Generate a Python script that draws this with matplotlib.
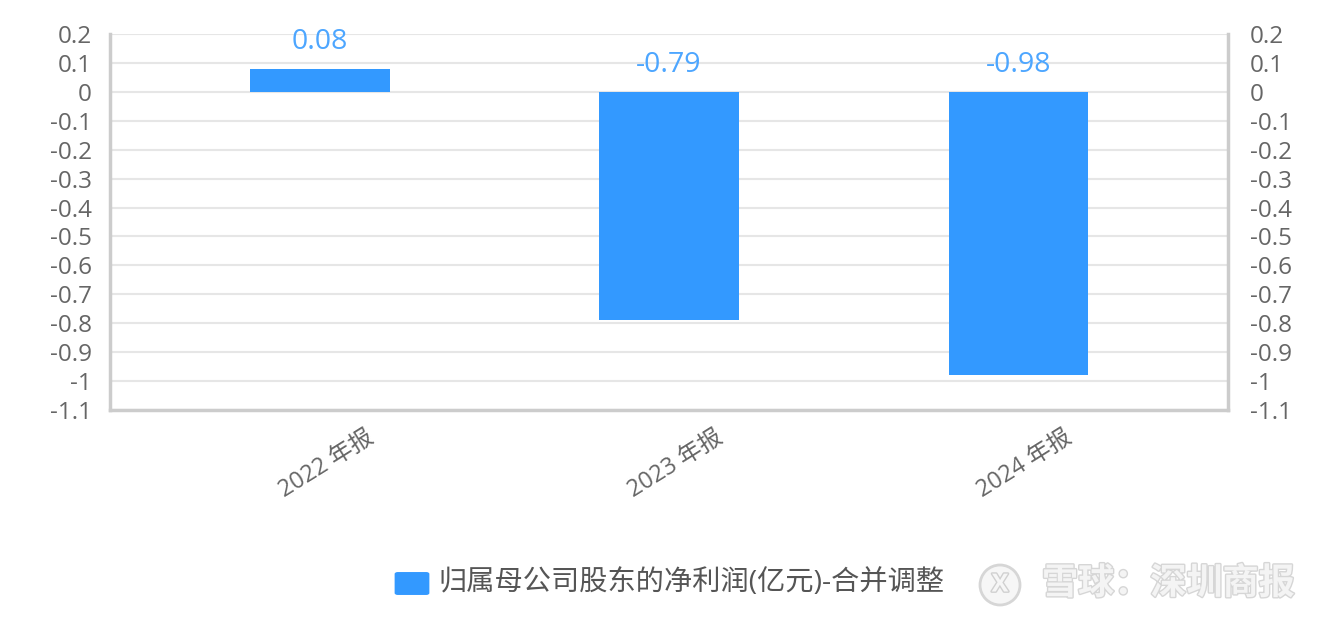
import matplotlib
matplotlib.use("Agg")
import matplotlib.pyplot as plt
from matplotlib.patches import FancyBboxPatch, Circle
import matplotlib.patheffects as pe
import matplotlib.transforms as mtransforms

categories = ["2022 年报", "2023 年报", "2024 年报"]
values = [0.08, -0.79, -0.98]
value_labels = ["0.08", "-0.79", "-0.98"]
yticks = [0.2, 0.1, 0, -0.1, -0.2, -0.3, -0.4, -0.5, -0.6, -0.7, -0.8, -0.9, -1, -1.1]
ytick_labels = ["0.2", "0.1", "0", "-0.1", "-0.2", "-0.3", "-0.4", "-0.5", "-0.6", "-0.7", "-0.8", "-0.9", "-1", "-1.1"]
legend_label = "归属母公司股东的净利润(亿元)-合并调整"
watermark = "雪球：深圳商报"

plt.rcParams['font.family'] = ['Open Sans', 'Noto Sans CJK SC', 'DejaVu Sans']

BAR = "#3399FF"
TXT = "#666666"
GRID = "#E6E6E6"
SPINE = "#CCCCCC"

fig = plt.figure(figsize=(13.4, 6.3), dpi=100)
ax = fig.add_axes([110/1340, 1-410/630, 1118/1340, 376/630])

x = list(range(len(categories)))
ax.bar(x, values, width=0.4, color=BAR, zorder=3)
ax.set_xlim(-0.6, 2.6)
ax.set_ylim(-1.1, 0.2)

ax.set_yticks(yticks)
ax.set_yticklabels(ytick_labels)
ax.tick_params(axis='y', length=0, labelsize=17.5, labelcolor=TXT, pad=13)
ax.grid(axis='y', color=GRID, linewidth=1.5, zorder=0)
ax.set_axisbelow(True)

ax.set_xticks(x)
ax.set_xticklabels(categories, rotation=32, ha='center', va='top')
ax.tick_params(axis='x', length=0, labelsize=17, labelcolor=TXT, pad=12)
shift = mtransforms.ScaledTranslation(7/100, 0, fig.dpi_scale_trans)
for lbl in ax.get_xticklabels():
    lbl.set_transform(lbl.get_transform() + shift)

for s in ['left', 'bottom', 'right']:
    ax.spines[s].set_color(SPINE)
    ax.spines[s].set_linewidth(2.5)
ax.spines['top'].set_visible(False)

ax2 = ax.twinx()
ax2.set_ylim(-1.1, 0.2)
ax2.set_yticks(yticks)
ax2.set_yticklabels(ytick_labels)
ax2.tick_params(axis='y', length=0, labelsize=17.5, labelcolor=TXT, pad=16)
for s in ['left', 'bottom', 'top', 'right']:
    ax2.spines[s].set_visible(False)

for xi, v, lab in zip(x, values, value_labels):
    ax.annotate(lab, (xi, max(v, 0)), xytext=(0, 9), textcoords='offset points',
                ha='center', va='bottom', fontsize=20.5, color="#4DA6FF")

# legend
fig.patches.append(FancyBboxPatch((398/1340, 1-593/630), 28/1340, 19/630,
                                  boxstyle="round,pad=0.002", transform=fig.transFigure,
                                  facecolor=BAR, edgecolor=BAR))
fig.text(438/1340, 1-583/630, legend_label, ha='left', va='center', fontsize=20.3, color="#555555")

# watermark logo (simple ring) and text
logo = Circle((1000, 630-585), 20, transform=None, facecolor="#F6F6F6",
              edgecolor="#D6D6D6", linewidth=2)
fig.patches.append(logo)
fig.text(1000/1340, 1-585/630, "X", ha='center', va='center', fontsize=18,
         color="#F6F6F6", fontweight='bold',
         path_effects=[pe.withStroke(linewidth=2, foreground="#D0D0D0")])
fig.text(1042/1340, 1-585/630, watermark, ha='left', va='center', fontsize=26,
         color="#F4F4F4", fontweight='bold',
         path_effects=[pe.withStroke(linewidth=2, foreground="#D6D6D6")])

fig.savefig("out.png", dpi=100)
